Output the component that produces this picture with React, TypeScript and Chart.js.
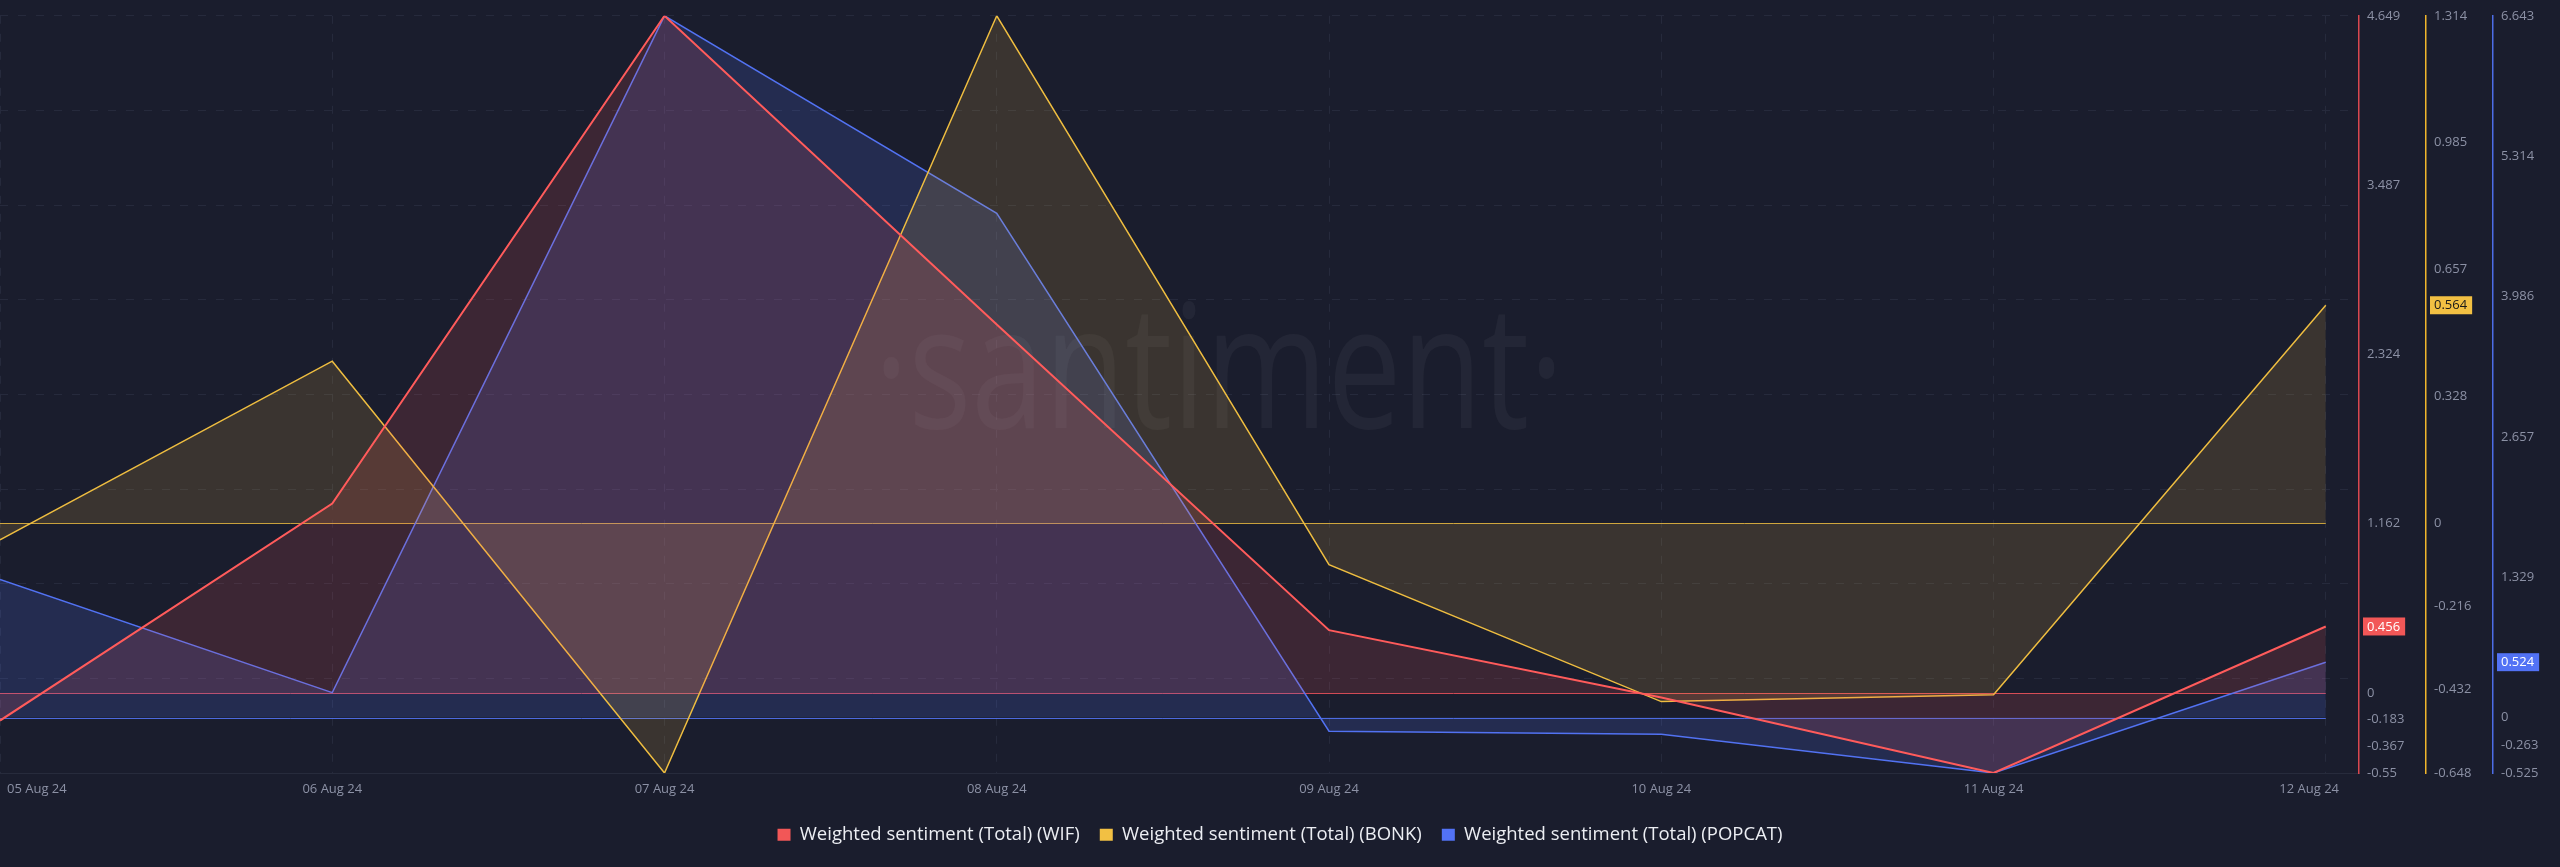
import { useEffect, useRef } from 'react';
import { Chart, registerables } from 'chart.js';

Chart.register(...registerables);

// ---- data ----
const dates = ['05 Aug 24', '06 Aug 24', '07 Aug 24', '08 Aug 24', '09 Aug 24', '10 Aug 24', '11 Aug 24', '12 Aug 24'];
const wifValues = [-0.19, 1.3, 4.649, 2.53, 0.431, -0.032, -0.55, 0.456];
const bonkValues = [-0.044, 0.419, -0.648, 1.314, -0.108, -0.463, -0.445, 0.564];
const popcatValues = [1.307, 0.236, 6.643, 4.773, -0.13, -0.159, -0.525, 0.524];

const wifTicks = [4.649, 3.487, 2.324, 1.162, 0, -0.183, -0.367, -0.55];
const bonkTicks = [1.314, 0.985, 0.657, 0.328, 0, -0.216, -0.432, -0.648];
const popcatTicks = [6.643, 5.314, 3.986, 2.657, 1.329, 0, -0.263, -0.525];

const seriesNames = [
  'Weighted sentiment (Total) (WIF)',
  'Weighted sentiment (Total) (BONK)',
  'Weighted sentiment (Total) (POPCAT)',
];

// ---- style ----
const BG = '#1a1d2d';
const GRID = '#262a3c';
const TICK = '#8c91a5';
const FONT = '"Open Sans", "Noto Sans", sans-serif';
const RED = '#ff5b5b';
const YELLOW = '#eebd40';
const BLUE = '#5272f2';
const RED_FILL = 'rgba(255, 91, 91, 0.15)';
const YELLOW_FILL = 'rgba(255, 200, 70, 0.14)';
const BLUE_FILL = 'rgba(82, 114, 242, 0.18)';
const BADGE = ['#f25757', '#f2c043', '#5272f5'];
const BADGE_TEXT = ['#ffffff', '#1a1a1a', '#ffffff'];
const AXIS_IDS = ['yWif', 'yBonk', 'yPopcat'];
const ZERO_COLORS = ['rgba(230, 80, 90, 0.9)', 'rgba(232, 185, 63, 0.85)', 'rgba(82, 114, 242, 0.9)'];

const toPoints = (arr: number[]) => arr.map((v, i) => ({ x: i, y: v }));

const bgPlugin = {
  id: 'bg',
  beforeDraw(chart: any) {
    const { ctx, width, height } = chart;
    ctx.save();
    ctx.fillStyle = BG;
    ctx.fillRect(0, 0, width, height);
    ctx.restore();
  },
};

const watermarkPlugin = {
  id: 'watermark',
  beforeDatasetsDraw(chart: any) {
    const { ctx } = chart;
    const xs = chart.scales.x;
    const cx = (xs.getPixelForValue(3) + xs.getPixelForValue(4)) / 2 + 56;
    ctx.save();
    ctx.font = `400 172px ${FONT}`;
    ctx.fillStyle = 'rgba(255,255,255,0.045)';
    ctx.textBaseline = 'alphabetic';
    ctx.textAlign = 'center';
    const text = '·santiment·';
    const w = ctx.measureText(text).width;
    const sx = 690 / w;
    ctx.translate(cx, 428);
    ctx.scale(sx, 1);
    ctx.fillText(text, 0, 0);
    ctx.restore();
  },
};

const zeroLinePlugin = {
  id: 'zeroLines',
  beforeDatasetsDraw(chart: any) {
    const { ctx } = chart;
    const xs = chart.scales.x;
    const x0 = xs.getPixelForValue(0);
    const x1 = xs.getPixelForValue(dates.length - 1);
    ctx.save();
    AXIS_IDS.forEach((id, i) => {
      const y = Math.round(chart.scales[id].getPixelForValue(0)) + 0.5;
      ctx.strokeStyle = ZERO_COLORS[i];
      ctx.lineWidth = 1;
      ctx.beginPath();
      ctx.moveTo(x0, y);
      ctx.lineTo(x1, y);
      ctx.stroke();
    });
    ctx.restore();
  },
};

const xLabelPlugin = {
  id: 'xLabels',
  afterDraw(chart: any) {
    const { ctx, chartArea } = chart;
    const xs = chart.scales.x;
    ctx.save();
    ctx.font = `13px ${FONT}`;
    ctx.fillStyle = TICK;
    ctx.textBaseline = 'middle';
    ctx.textAlign = 'left';
    dates.forEach((d, i) => {
      const px = xs.getPixelForValue(i);
      const w = ctx.measureText(d).width;
      let left = px - w / 2;
      if (left < 7) left = 7;
      if (left + w > chartArea.right - 20) left = chartArea.right - 20 - w;
      ctx.fillText(d, left, chartArea.bottom + 16);
    });
    ctx.restore();
  },
};

const badgePlugin = {
  id: 'badges',
  afterDraw(chart: any) {
    const { ctx } = chart;
    const all = [wifValues, bonkValues, popcatValues];
    ctx.save();
    ctx.font = `13px ${FONT}`;
    ctx.textBaseline = 'middle';
    ctx.textAlign = 'left';
    AXIS_IDS.forEach((id, i) => {
      const s = chart.scales[id];
      const vals = all[i];
      const v = vals[vals.length - 1];
      const y = s.getPixelForValue(v);
      const text = String(v);
      const w = ctx.measureText(text).width;
      ctx.fillStyle = BADGE[i];
      ctx.fillRect(s.left + 4, y - 9, w + 9, 18);
      ctx.fillStyle = BADGE_TEXT[i];
      ctx.fillText(text, s.left + 8, y + 0.5);
    });
    ctx.restore();
  },
};

function yAxis(ticks: number[], color: string) {
  return {
    type: 'linear' as const,
    position: 'right' as const,
    min: Math.min(...ticks),
    max: Math.max(...ticks),
    afterBuildTicks: (s: any) => {
      s.ticks = ticks.map((v) => ({ value: v }));
    },
    afterFit: (s: any) => {
      s.width = 67;
    },
    grid: { display: false, drawTicks: false },
    border: { display: true, color, width: 1.5 },
    ticks: {
      padding: 8,
      color: TICK,
      autoSkip: false,
      font: { family: FONT, size: 13 },
      callback: (v: any) => String(v),
    },
  };
}

export default function App() {
  const ref = useRef<HTMLCanvasElement | null>(null);

  useEffect(() => {
    document.body.style.margin = '0';
    document.body.style.background = BG;
    if (!ref.current) return;
    const chart = new Chart(ref.current, {
      type: 'line',
      data: {
        datasets: [
          {
            label: seriesNames[0],
            data: toPoints(wifValues),
            yAxisID: 'yWif',
            borderColor: RED,
            backgroundColor: RED_FILL,
            borderWidth: 2,
            fill: 'origin',
            pointRadius: 0,
            tension: 0,
          },
          {
            label: seriesNames[1],
            data: toPoints(bonkValues),
            yAxisID: 'yBonk',
            borderColor: YELLOW,
            backgroundColor: YELLOW_FILL,
            borderWidth: 1.5,
            fill: 'origin',
            pointRadius: 0,
            tension: 0,
          },
          {
            label: seriesNames[2],
            data: toPoints(popcatValues),
            yAxisID: 'yPopcat',
            borderColor: BLUE,
            backgroundColor: BLUE_FILL,
            borderWidth: 1.5,
            fill: 'origin',
            pointRadius: 0,
            tension: 0,
          },
        ],
      },
      options: {
        animation: false,
        responsive: false,
        devicePixelRatio: 1,
        layout: { padding: { top: 10, bottom: 13, left: 0, right: 0 } },
        plugins: {
          tooltip: { enabled: false },
          legend: {
            position: 'bottom',
            labels: {
              boxWidth: 13,
              boxHeight: 12,
              padding: 20,
              color: '#eceef3',
              font: { family: FONT, size: 18.5 },
              generateLabels: () =>
                seriesNames.map((t, i) => ({
                  text: t,
                  fillStyle: BADGE[i],
                  strokeStyle: BADGE[i],
                  lineWidth: 0,
                  hidden: false,
                  datasetIndex: i,
                  fontColor: '#eceef3',
                })),
            },
          },
        },
        scales: {
          x: {
            type: 'linear',
            min: 0,
            max: 7.1,
            afterFit: (s: any) => {
              s.height = 32.5;
            },
            ticks: { display: false, stepSize: 1, includeBounds: false },
            grid: { color: GRID, lineWidth: 1, drawTicks: false },
            border: { display: true, color: '#272b3c', dash: [8, 10] },
          },
          g: {
            type: 'linear',
            position: 'left',
            min: 0,
            max: 8,
            afterFit: (s: any) => {
              s.width = 0;
            },
            ticks: { display: false, stepSize: 1 },
            grid: { color: GRID, lineWidth: 1, drawTicks: false },
            border: { display: false, dash: [8, 10] },
          },
          yWif: yAxis(wifTicks, '#d9474f'),
          yBonk: yAxis(bonkTicks, '#f0b62c'),
          yPopcat: yAxis(popcatTicks, '#4d6de6'),
        },
      } as any,
      plugins: [bgPlugin, watermarkPlugin, zeroLinePlugin, xLabelPlugin, badgePlugin],
    });
    return () => chart.destroy();
  }, []);

  return <canvas ref={ref} width={2560} height={867} style={{ display: 'block' }} />;
}
